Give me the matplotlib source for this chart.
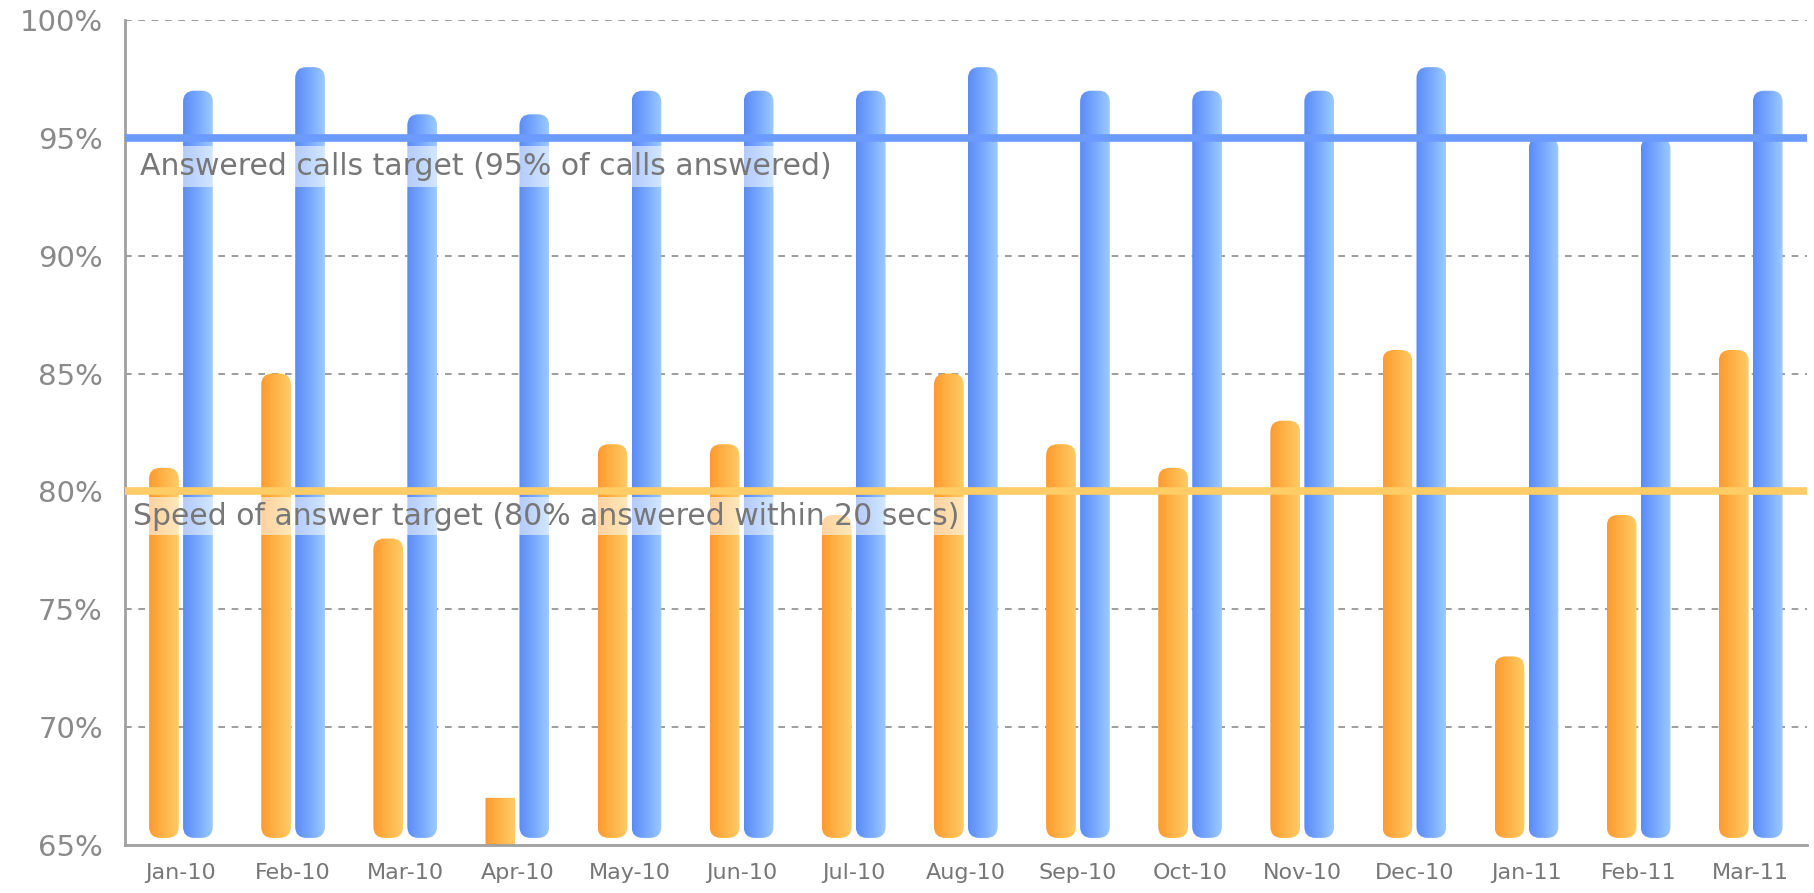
import numpy as np
import matplotlib
matplotlib.use("Agg")
import matplotlib.pyplot as plt
from matplotlib.patches import FancyBboxPatch
from matplotlib.colors import LinearSegmentedColormap
from matplotlib.ticker import FuncFormatter

months = ["Jan-10", "Feb-10", "Mar-10", "Apr-10", "May-10", "Jun-10", "Jul-10",
          "Aug-10", "Sep-10", "Oct-10", "Nov-10", "Dec-10", "Jan-11", "Feb-11", "Mar-11"]
speed_of_answer = [81, 85, 78, 67, 82, 82, 79, 85, 82, 81, 83, 86, 73, 79, 86]
answered_calls = [97, 98, 96, 96, 97, 97, 97, 98, 97, 97, 97, 98, 95, 95, 97]
answered_target = 95
speed_target = 80
answered_label = "Answered calls target (95% of calls answered)"
speed_label = "Speed of answer target (80% answered within 20 secs)"

Y_MIN, Y_MAX = 65, 100
BAR_W = 0.265
ORANGE = LinearSegmentedColormap.from_list("o", ["#ff9a30", "#ffb448", "#ffcb66"])
BLUE = LinearSegmentedColormap.from_list("b", ["#5b8cf6", "#78a8ff", "#9dcaff"])

fig = plt.figure(figsize=(18.14, 8.93), dpi=100)
ax = fig.add_axes([0.0689, 0.0538, 0.9272, 0.9238])
ax.set_xlim(-0.5, len(months) - 0.5)
ax.set_ylim(Y_MIN, Y_MAX)

# px per x-unit / px per y-unit, so rounded corners stay circular
bbox = ax.get_window_extent()
aspect = (bbox.width / (len(months))) / (bbox.height / (Y_MAX - Y_MIN))
gradient = np.linspace(0, 1, 64).reshape(1, -1)


def gradient_bar(x0, top, cmap):
    bottom = Y_MIN + 0.3
    rounded = top - bottom > 3
    radius = 0.1 if rounded else 0.0
    if not rounded:
        bottom = Y_MIN
    patch = FancyBboxPatch((x0, bottom), BAR_W, top - bottom,
                           boxstyle=f"round,pad=0,rounding_size={radius}",
                           mutation_aspect=aspect, facecolor="none",
                           edgecolor="none", zorder=2)
    ax.add_patch(patch)
    im = ax.imshow(gradient, cmap=cmap, extent=(x0, x0 + BAR_W, bottom, top),
                   aspect="auto", interpolation="bicubic", zorder=2)
    im.set_clip_path(patch)


for i, (s, a) in enumerate(zip(speed_of_answer, answered_calls)):
    gradient_bar(i - 0.285, s, ORANGE)
    gradient_bar(i + 0.018, a, BLUE)

ax.set_xlim(-0.5, len(months) - 0.5)
ax.set_ylim(Y_MIN, Y_MAX)

# grid
for y in range(70, 101, 5):
    ax.axhline(y, color="#8c8c8c", lw=1.2, ls=(0, (4, 4)), zorder=1)

# target lines
ax.axhline(answered_target, color="#6b9bff", lw=5.5, zorder=3)
ax.axhline(speed_target, color="#ffcc66", lw=5.5, zorder=3)

ax.text(-0.37, answered_target - 1.2, answered_label, fontsize=21.5, color="#777777",
        va="center", ha="left", zorder=4,
        bbox=dict(boxstyle="square,pad=0.2", fc="white", ec="none", alpha=0.55))
ax.text(-0.43, speed_target - 1.05, speed_label, fontsize=21.5, color="#777777",
        va="center", ha="left", zorder=4,
        bbox=dict(boxstyle="square,pad=0.15", fc="white", ec="none", alpha=0.55))

ax.set_yticks(range(Y_MIN, Y_MAX + 1, 5))
ax.yaxis.set_major_formatter(FuncFormatter(lambda v, _: f"{int(v)}%"))
ax.set_xticks(range(len(months)), months)
ax.tick_params(axis="y", length=0, labelsize=21, labelcolor="#8a8a8a", pad=16)
ax.tick_params(axis="x", length=0, labelsize=16, labelcolor="#777777", pad=13)

for side in ("top", "right"):
    ax.spines[side].set_visible(False)
for side in ("left", "bottom"):
    ax.spines[side].set_color("#a0a0a0")
    ax.spines[side].set_linewidth(2)

fig.savefig("out.png", dpi=100, facecolor="white")
